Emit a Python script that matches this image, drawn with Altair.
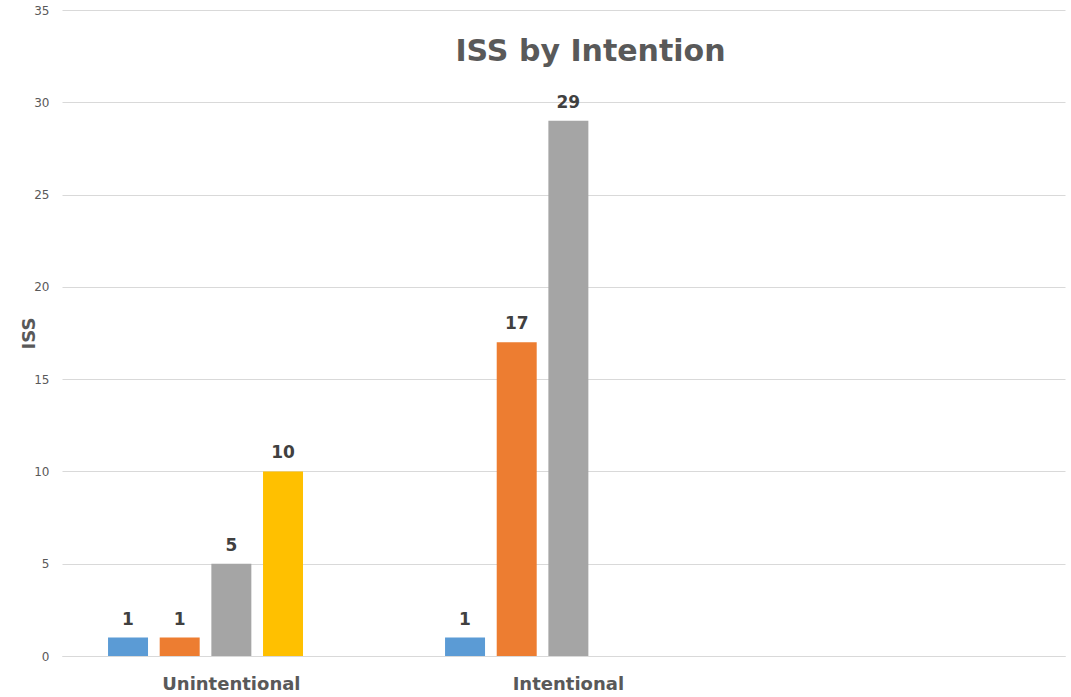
import altair as alt
import pandas as pd

categories = ["Unintentional", "Intentional"]
series = ["S1", "S2", "S3", "S4", "S5"]
colors = ["#5B9BD5", "#ED7D31", "#A5A5A5", "#FFC000", "#4472C4"]
s1 = [1, 1]
s2 = [1, 17]
s3 = [5, 29]
s4 = [10, None]
s5 = [None, None]

rows = []
for name, vals in zip(series, [s1, s2, s3, s4, s5]):
    for c, v in zip(categories, vals):
        if v is not None:
            rows.append({"cat": c, "series": name, "value": v})
df = pd.DataFrame(rows)

x_domain = categories + [""]
font = "DejaVu Sans"

base = alt.Chart(df).encode(
    x=alt.X("cat:N", sort=x_domain,
            scale=alt.Scale(domain=x_domain, paddingInner=0.2335, paddingOuter=0.1048, align=0.569),
            axis=alt.Axis(title=None, labelAngle=0, labelFontSize=18, labelFontWeight="bold",
                          labelColor="#595959", labelFont=font, labelPadding=19,
                          ticks=False, domainColor="#D9D9D9", domainWidth=1)),
    xOffset=alt.XOffset("series:N", scale=alt.Scale(domain=series, paddingInner=0.226, paddingOuter=0.113)),
    y=alt.Y("value:Q", scale=alt.Scale(domain=[0, 35], nice=False),
            axis=alt.Axis(title="ISS", values=[0, 5, 10, 15, 20, 25, 30, 35], labelFontSize=12,
                          labelColor="#595959", labelFont=font, labelPadding=13, ticks=False,
                          domain=False, gridColor="#D9D9D9", titleFontSize=18,
                          titleFontWeight="bold", titleColor="#595959", titleFont=font,
                          titleX=-24, titleY=323)),
)

bars = base.mark_bar().encode(
    color=alt.Color("series:N", scale=alt.Scale(domain=series, range=colors), legend=None)
)
labels = base.mark_text(dy=-9, baseline="bottom", fontSize=17, fontWeight="bold",
                        color="#404040", font=font).encode(text="value:Q")

chart = (bars + labels).properties(
    width=1003, height=646,
    title=alt.TitleParams("ISS by Intention", fontSize=30, fontWeight="bold", color="#595959",
                          font=font, anchor="middle", dx=27, dy=67),
    padding={"left": 62, "top": 10, "right": 6, "bottom": 41},
    autosize=alt.AutoSizeParams(type="none"),
).configure_view(stroke=None)

chart.save("out.html", embed_options={"renderer": "svg", "actions": False})
